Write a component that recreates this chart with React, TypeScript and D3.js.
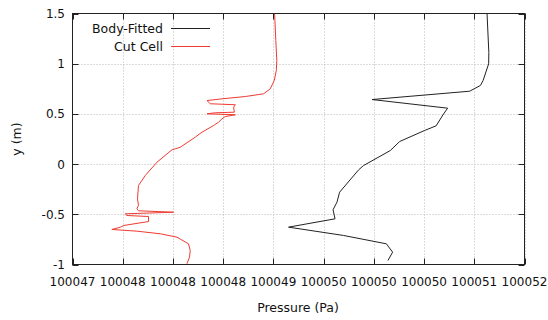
import React from "react";
import * as d3 from "d3";

const BASE = 100047;
// Pressure offsets from 100047 Pa and y (m) values
const bodyFittedP = [4.127, 4.145, 4.143, 4.088, 4.061, 3.954, 2.982, 3.735, 3.695, 3.62, 3.506, 3.257, 3.164, 2.898, 2.849, 2.659, 2.633, 2.594, 2.614, 2.151, 2.699, 3.125, 3.187, 3.141];
const bodyFittedY = [1.5, 1.112, 0.999, 0.833, 0.783, 0.726, 0.643, 0.557, 0.501, 0.381, 0.335, 0.225, 0.135, -0.014, -0.057, -0.28, -0.379, -0.455, -0.545, -0.628, -0.711, -0.794, -0.877, -0.96];

const cutCellP = [2.012, 2.024, 2.034, 2.029, 2.009, 1.969, 1.902, 1.72, 1.488, 1.339, 1.372, 1.621, 1.604, 1.611, 1.421, 1.339, 1.621, 1.521, 1.488, 1.454, 1.404, 1.289, 1.222, 1.073, 1.023, 0.99, 0.841, 0.724, 0.657, 0.647, 0.657, 0.641, 0.657, 1.006, 0.525, 0.542, 0.757, 0.757, 0.508, 0.475, 0.392, 0.641, 0.874, 1.04, 1.155, 1.172, 1.165, 1.139];
const cutCellY = [1.5, 1.231, 1.032, 0.932, 0.833, 0.75, 0.7, 0.673, 0.65, 0.633, 0.601, 0.591, 0.567, 0.517, 0.511, 0.501, 0.491, 0.474, 0.451, 0.417, 0.384, 0.318, 0.268, 0.168, 0.152, 0.142, 0.019, -0.114, -0.213, -0.346, -0.412, -0.445, -0.465, -0.479, -0.495, -0.512, -0.522, -0.572, -0.612, -0.629, -0.651, -0.668, -0.694, -0.728, -0.794, -0.861, -0.927, -0.993];

const xTicks = [100047, 100047.5, 100048, 100048.5, 100049, 100049.5, 100050, 100050.5, 100051, 100051.5];
const xTickLabels = ["100047", "100048", "100048", "100048", "100049", "100050", "100050", "100050", "100051", "100052"];
const yTicks = [-1, -0.5, 0, 0.5, 1, 1.5];
const yTickLabels = ["-1", "-0.5", "0", "0.5", "1", "1.5"];

const seriesNames = ["Body-Fitted", "Cut Cell"];
const seriesColors = ["#222222", "#ee3b32"];

export default function App() {
  const W = 548, H = 320;
  const left = 72.5, right = 524.5, top = 13.5, bottom = 264.5;
  const x = d3.scaleLinear().domain([100047, 100051.5]).range([left, right]);
  const y = d3.scaleLinear().domain([-1, 1.5]).range([bottom, top]);
  const font = "'DejaVu Sans', Verdana, sans-serif";
  const fs = 12;
  const fsLabel = 12.5;

  const mk = (ps: number[], ys: number[]) =>
    d3.line<number>().x((_, i) => x(BASE + ps[i])).y((_, i) => y(ys[i]))(ps) || "";

  const series = [mk(bodyFittedP, bodyFittedY), mk(cutCellP, cutCellY)];
  const tl = 6;
  const tc = "#111";

  return (
    <svg width={W} height={H} style={{ position: "absolute", left: 0, top: 0, background: "#fff" }}
      fontFamily={font} fontSize={fs}>
      {/* grid */}
      {xTicks.slice(1).map((t, i) => (
        <line key={"gx" + i} x1={Math.round(x(t)) + 0.5} x2={Math.round(x(t)) + 0.5} y1={top} y2={bottom}
          stroke="#b8b8b8" strokeWidth={1} strokeDasharray="1,2" />
      ))}
      {yTicks.slice(1, -1).map((t, i) => (
        <line key={"gy" + i} x1={left} x2={right} y1={Math.round(y(t)) + 0.5} y2={Math.round(y(t)) + 0.5}
          stroke="#b8b8b8" strokeWidth={1} strokeDasharray="1,2" />
      ))}
      {/* ticks */}
      {xTicks.map((t, i) => {
        const px = Math.round(x(t)) + 0.5;
        return (
          <g key={"tx" + i}>
            <line x1={px} x2={px} y1={bottom} y2={bottom - tl} stroke="#222" />
            <line x1={px} x2={px} y1={top} y2={top + tl} stroke="#222" />
            <text x={x(t)} y={286} textAnchor="middle" fill={tc}>{xTickLabels[i]}</text>
          </g>
        );
      })}
      {yTicks.map((t, i) => {
        const py = Math.round(y(t)) + 0.5;
        return (
          <g key={"ty" + i}>
            <line x1={left} x2={left + tl} y1={py} y2={py} stroke="#222" />
            <line x1={right} x2={right - tl} y1={py} y2={py} stroke="#222" />
            <text x={65} y={y(t) + 4.5} textAnchor="end" fill={tc}>{yTickLabels[i]}</text>
          </g>
        );
      })}
      {/* data */}
      <path d={series[0]} fill="none" stroke={seriesColors[0]} strokeWidth={1} />
      <path d={series[1]} fill="none" stroke={seriesColors[1]} strokeWidth={1} />
      {/* border */}
      <rect x={left} y={top} width={right - left} height={bottom - top} fill="none" stroke="#222" strokeWidth={1} />
      {/* legend */}
      {seriesNames.map((n, i) => (
        <g key={"lg" + i}>
          <text x={163} y={32.5 + i * 18} textAnchor="end" fill={tc} fontSize={fsLabel}>{n}</text>
          <line x1={171} x2={210} y1={28.5 + i * 18} y2={28.5 + i * 18} stroke={seriesColors[i]} strokeWidth={1} />
        </g>
      ))}
      {/* axis labels */}
      <text x={298} y={312} textAnchor="middle" fill={tc} fontSize={fsLabel}>Pressure (Pa)</text>
      <text transform="translate(21,139) rotate(-90)" textAnchor="middle" fill={tc} fontSize={fsLabel}>y (m)</text>
    </svg>
  );
}
